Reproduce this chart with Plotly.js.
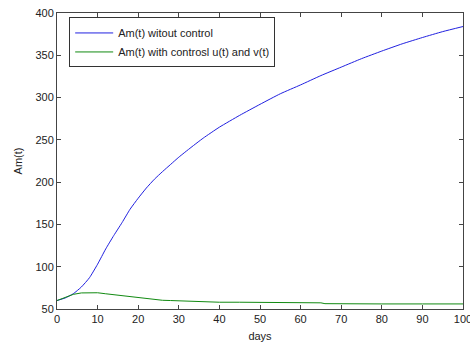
<!DOCTYPE html>
<html>
<head>
<meta charset="utf-8">
<script src="https://cdn.plot.ly/plotly-3.0.1.min.js"></script>
<style>
html,body{margin:0;padding:0;background:#fff;}
#chart{width:470px;height:343px;}
</style>
</head>
<body>
<div id="chart"></div>
<script>
// Data
const daysBlue = [0, 2, 4, 6, 8, 10, 12, 14, 16, 18, 20, 22, 24, 26, 28, 30, 33, 36, 40, 45, 50, 55, 60, 65, 70, 75, 80, 85, 90, 95, 100];
const amNoControl = [60, 63, 68, 76, 87, 103, 121, 137, 152, 168, 181, 193, 203.5, 212.5, 221, 229.5, 241, 252, 265, 279, 292, 304.5, 315, 326, 336, 346, 355, 363.5, 371, 378, 384];
const daysGreen = [0, 2, 4, 6, 8, 10, 12, 14, 16, 18, 20, 22, 24, 26, 28, 30, 33, 36, 40, 45, 49, 50, 55, 60, 65, 66, 70, 80, 90, 100];
const amWithControl = [60, 63.5, 67.3, 69, 69.3, 69.2, 68, 66.8, 65.5, 64.3, 63.2, 62.2, 61.2, 60.3, 60, 59.7, 58.9, 58.2, 58, 58, 58, 57.5, 57.5, 57.5, 57.3, 56.3, 56, 56, 56, 56];
const seriesNames = ["Am(t) witout control", "Am(t) with controsl u(t) and v(t)"];
const xTicks = [0, 10, 20, 30, 40, 50, 60, 70, 80, 90, 100];
const yTicks = [50, 100, 150, 200, 250, 300, 350, 400];

const font = {family: "Liberation Sans, Arial, sans-serif", size: 11, color: "#222"};

const traces = [
  {x: daysBlue, y: amNoControl, name: seriesNames[0], mode: "lines",
   line: {color: "#2020e0", width: 1, shape: "spline", smoothing: 0.5}},
  {x: daysGreen, y: amWithControl, name: seriesNames[1], mode: "lines",
   line: {color: "#118a11", width: 1}}
];

const axisCommon = {
  showline: true, mirror: "ticks", linecolor: "#444", linewidth: 1,
  ticks: "inside", ticklen: 4, tickcolor: "#444", showgrid: false, zeroline: false,
  tickfont: font, ticklabeloverflow: "allow"
};

const layout = {
  width: 470, height: 343,
  margin: {l: 57, r: 7, t: 12.5, b: 34},
  paper_bgcolor: "#fff", plot_bgcolor: "#fff",
  font: font,
  showlegend: true,
  legend: {x: 0.03, y: 0.985, xanchor: "left", yanchor: "top",
           bordercolor: "#333", borderwidth: 1, bgcolor: "#fff",
           font: font, tracegroupgap: 0, itemwidth: 38},
  xaxis: Object.assign({}, axisCommon, {range: [0, 100], tickvals: xTicks,
           title: {text: "days", font: font, standoff: 8}}),
  yaxis: Object.assign({}, axisCommon, {range: [50, 400], tickvals: yTicks,
           title: {text: "Am(t)", font: font, standoff: 10}})
};

Plotly.newPlot("chart", traces, layout, {displayModeBar: false, staticPlot: true});
</script>
</body>
</html>
